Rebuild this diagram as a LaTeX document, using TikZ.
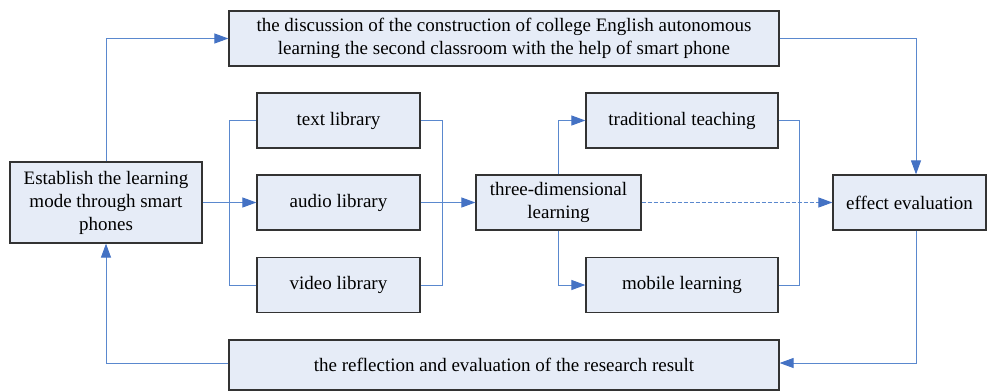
\documentclass[tikz,border=0pt]{standalone}
\usepackage{fontspec}
\setmainfont{Liberation Serif}
\usetikzlibrary{arrows.meta}
\definecolor{boxfill}{HTML}{E6ECF7}
\definecolor{boxline}{HTML}{333333}
\definecolor{conn}{HTML}{5A88CE}
\definecolor{tip}{HTML}{4472C4}
\tikzset{
  box/.style={draw=boxline, fill=boxfill, line width=1.2pt, align=center, inner sep=0pt,
    font=\fontsize{19}{23}\selectfont},
  link/.style={draw=conn, line width=1pt},
  arr/.style={link, -{Triangle[length=14pt,width=10pt,fill=tip,color=tip]}},
}
\begin{document}
\begin{tikzpicture}[x=1pt,y=-1pt]
\useasboundingbox (0,0) rectangle (987,391);
\node[box, minimum width=550pt, minimum height=55pt] (disc) at (504,38.5)
  {the discussion of the construction of college English autonomous\\learning the second classroom with the help of smart phone};
\node[box, minimum width=192pt, minimum height=81pt] (est) at (106,202.5)
  {Establish the learning\\mode through smart\\phones};
\node[box, minimum width=163pt, minimum height=55pt] (text) at (338.5,120.5) {text library};
\node[box, minimum width=163pt, minimum height=55pt] (audio) at (338.5,202.5) {audio library};
\node[box, minimum width=163pt, minimum height=55pt] (video) at (338.5,285) {video library};
\node[box, minimum width=165pt, minimum height=55pt] (three) at (558.5,202.5) {three-dimensional\\learning};
\node[box, minimum width=192pt, minimum height=55pt] (trad) at (682,120.5) {traditional teaching};
\node[box, minimum width=192pt, minimum height=55pt] (mob) at (682,285) {mobile learning};
\node[box, minimum width=153pt, minimum height=55pt] (eff) at (909.5,202.5) {effect evaluation};
\node[box, minimum width=550pt, minimum height=50pt] (refl) at (504,365)
  {the reflection and evaluation of the research result};

\draw[arr] (est.north) |- (disc.west);
\draw[arr] (disc.east) -| ([xshift=6.5pt]eff.north);
\draw[arr] ([xshift=6.5pt]eff.south) |- ([yshift=2pt]refl.east);
\draw[arr] ([yshift=2pt]refl.west) -| (est.south);
\draw[arr] (est.east) -- (audio.west);
\draw[link] (text.west) -- ++(-27,0) |- (video.west);
\draw[link] (text.east) -- ++(22,0) |- (video.east);
\draw[arr] (audio.east) -- (three.west);
\draw[arr] (three.north) |- (trad.west);
\draw[arr] (three.south) |- (mob.west);
\draw[link] (trad.east) -- ++(21,0) |- (mob.east);
\draw[arr, dashed, dash pattern=on 4pt off 2pt] (three.east) -- (eff.west);
\end{tikzpicture}
\end{document}
